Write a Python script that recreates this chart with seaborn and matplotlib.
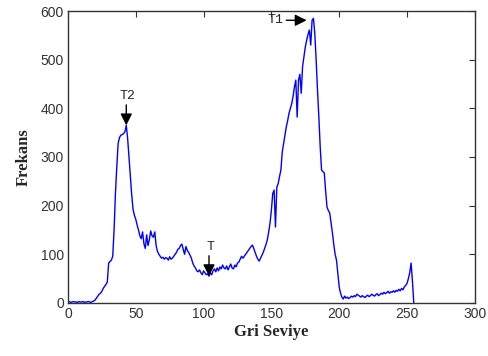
import numpy as np
import pandas as pd
import matplotlib
matplotlib.use("Agg")
import matplotlib.pyplot as plt
import seaborn as sns

# Gray-level histogram counts, bins 0..255
counts = [
    2, 3, 1, 2, 3, 2, 2, 1, 3, 2, 2, 3, 1, 2, 2, 3, 2, 1, 3, 4,
    6, 10, 14, 18, 20, 24, 30, 34, 38, 43,
    82, 85, 88, 96, 150, 225, 280, 328, 340, 345,
    346, 348, 352, 365, 338, 300, 262, 222, 192, 180,
    172, 160, 150, 138, 132, 146, 122, 112, 140, 118,
    130, 148, 138, 135, 146, 118, 106, 100, 96, 92,
    94, 90, 93, 92, 88, 95, 90, 92, 96, 100,
    104, 110, 112, 118, 121, 110, 100, 116, 108, 104,
    98, 92, 82, 76, 72, 66, 64, 68, 62, 58,
    66, 62, 58, 60, 55, 62, 58, 66, 70, 64,
    72, 66, 74, 70, 78, 72, 70, 76, 68, 74,
    80, 72, 70, 78, 74, 82, 84, 90, 96, 92,
    96, 100, 104, 108, 112, 116, 119, 112, 104, 96,
    90, 86, 92, 98, 104, 112, 120, 130, 146, 164,
    191, 225, 232, 156, 238, 245, 260, 273, 310, 328,
    345, 362, 375, 390, 400, 410, 425, 444, 458, 382,
    458, 470, 431, 486, 506, 526, 540, 552, 561, 530,
    581, 585, 554, 500, 437, 382, 320, 273, 270, 267,
    230, 197, 190, 185, 165, 144, 120, 100, 88, 60,
    33, 20, 12, 8, 14, 10, 12, 9, 11, 14,
    12, 15, 13, 18, 16, 14, 12, 15, 13, 11,
    14, 16, 13, 15, 18, 16, 14, 17, 19, 15,
    17, 20, 18, 22, 19, 21, 24, 20, 23, 22,
    25, 22, 26, 24, 28, 25, 30, 27, 33, 36,
    40, 50, 62, 82, 45, 0,
]
levels = list(range(len(counts)))

x_ticks = [0, 50, 100, 150, 200, 250, 300]
y_ticks = [0, 100, 200, 300, 400, 500, 600]

# Threshold markers: (label, level, count at arrow tip)
markers_down = [("T2", 43, 365), ("T", 104, 55)]
t1_level, t1_count = 176, 581

sns.set_style("white")
plt.rcParams["font.family"] = ["Liberation Sans", "DejaVu Sans"]

df = pd.DataFrame({"Gri Seviye": levels, "Frekans": counts})

fig = plt.figure(figsize=(4.89, 3.56), dpi=100)
ax = fig.add_axes([0.139, 0.149, 0.832, 0.820])
sns.lineplot(data=df, x="Gri Seviye", y="Frekans", ax=ax,
             color="#0000ff", linewidth=1.0)

ax.set_xlim(0, 300)
ax.set_ylim(0, 600)
ax.set_xticks(x_ticks)
ax.set_yticks(y_ticks)
ax.tick_params(direction="in", length=4, width=0.8, top=True, right=True,
               labelsize=10, labelcolor="#333333", color="#333333", pad=3)
for s in ax.spines.values():
    s.set_color("#333333")
    s.set_linewidth(1.0)

ax.set_xlabel("Gri Seviye", fontfamily="Liberation Serif", fontweight="bold",
              fontsize=12, labelpad=2)
ax.set_ylabel("Frekans", fontfamily="Liberation Serif", fontweight="bold",
              fontsize=12, labelpad=6)

mark_font = ["Liberation Mono", "DejaVu Sans Mono"]
arrow = dict(arrowstyle="-|>,head_length=0.7,head_width=0.35", color="black",
             lw=1.0, shrinkA=0, shrinkB=0)
for label, lvl, cnt in markers_down:
    ax.annotate("", xy=(lvl, cnt), xytext=(lvl, cnt + 42), arrowprops=arrow)
    ax.text(lvl + 1, cnt + 48, label, ha="center", va="bottom",
            family=mark_font, fontsize=9.5)

ax.annotate("", xy=(t1_level, t1_count), xytext=(t1_level - 15, t1_count),
            arrowprops=arrow)
ax.text(t1_level - 17, t1_count, "T1", ha="right", va="center",
        family=mark_font, fontsize=9.5)

fig.savefig("out.png", dpi=100)
